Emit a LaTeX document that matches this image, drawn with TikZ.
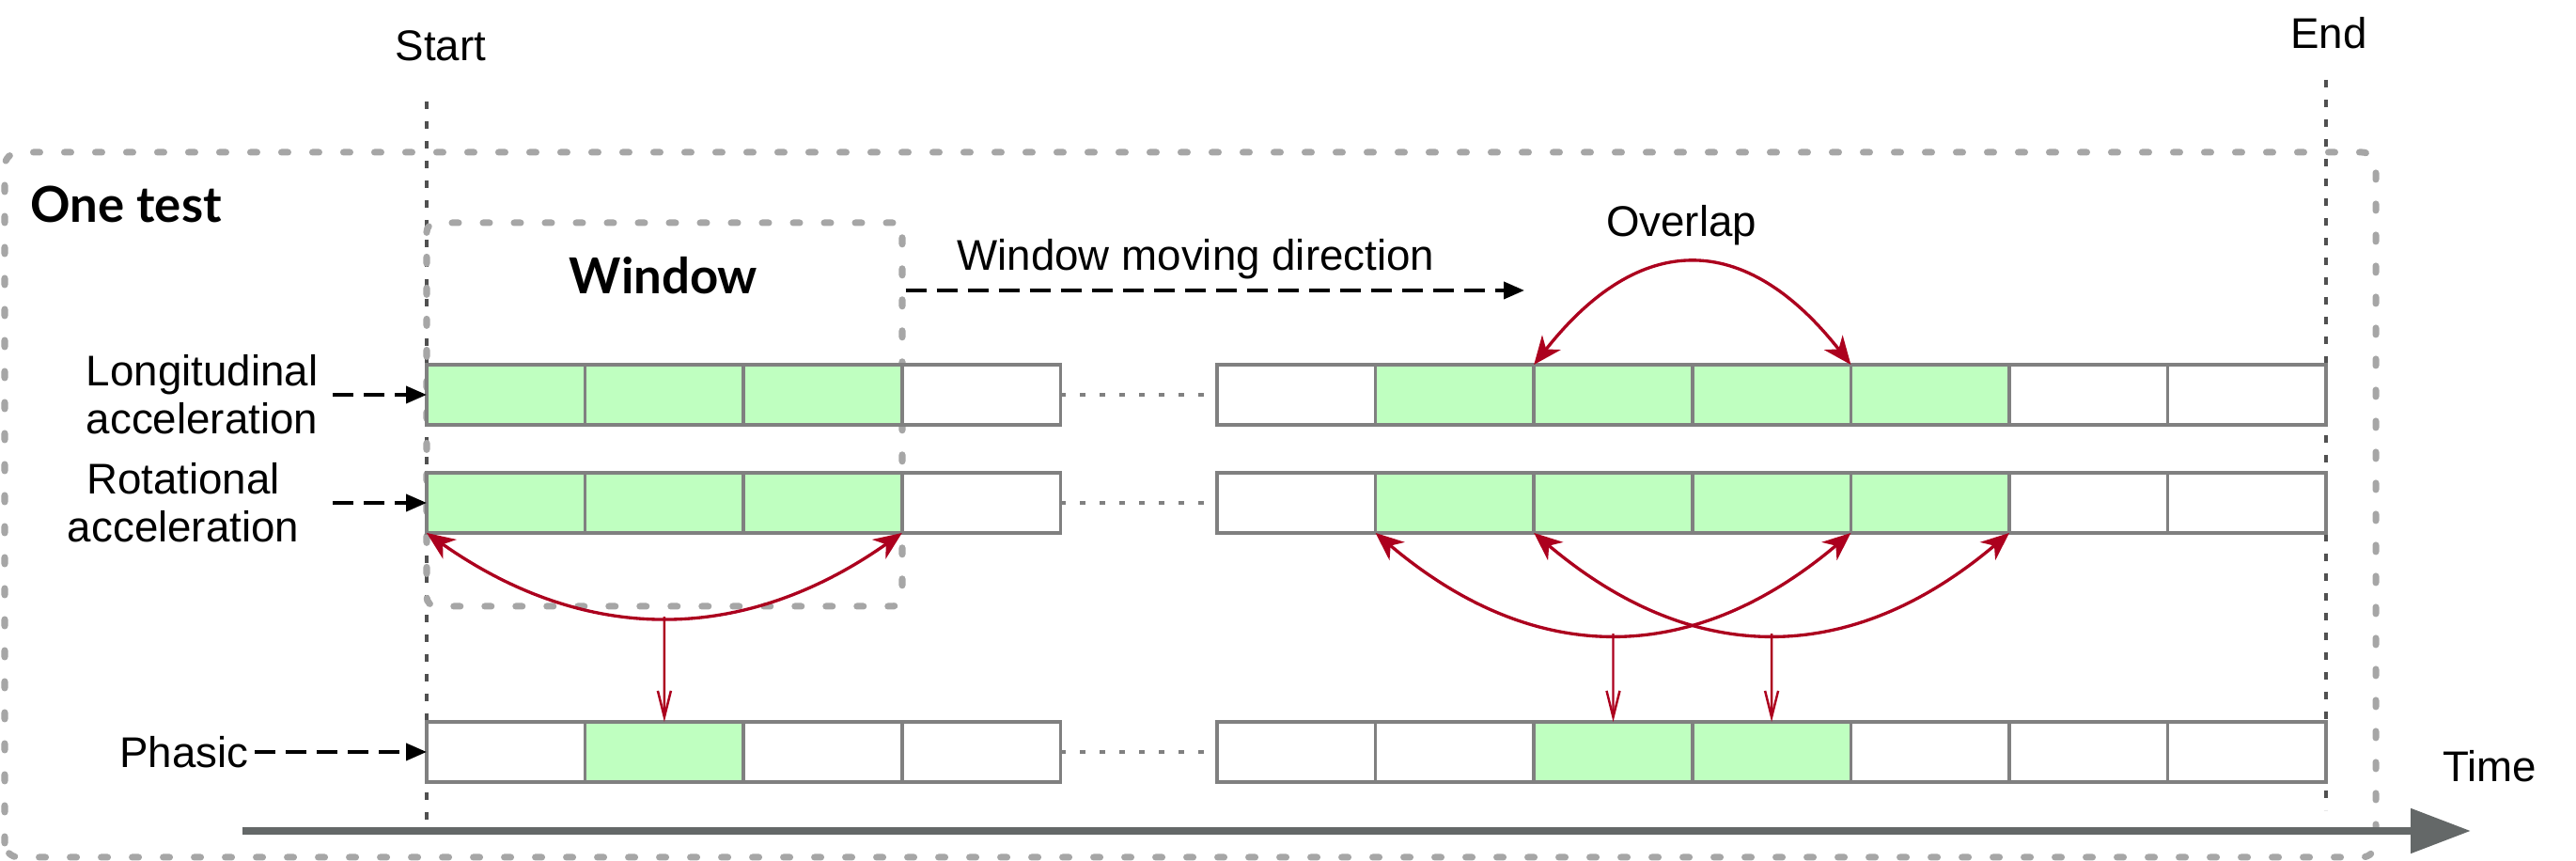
\documentclass[tikz,border=0pt]{standalone}
\usepackage{fontspec}
\setmainfont{Liberation Sans}
\newfontfamily\headfont{Lato}
\usepackage{xcolor}
\usetikzlibrary{arrows.meta, positioning}
\definecolor{cellgreen}{RGB}{191,255,192}
\definecolor{cellgray}{RGB}{128,128,128}
\definecolor{boxgray}{RGB}{166,166,166}
\definecolor{arcred}{RGB}{172,0,30}
\definecolor{axisgray}{RGB}{100,104,104}
\definecolor{guidegray}{RGB}{80,80,80}

\begin{document}
\begin{tikzpicture}[
        font=\fontsize{13}{14.5}\selectfont,
        node distance=0pt,
        cell/.style={rectangle, draw=cellgray, line width=1pt, fill=white, minimum width=1.686cm, minimum height=0.64cm, inner sep=0pt, outer sep=0pt},
        wincell/.style={cell, fill=cellgreen},
        lbl/.style={align=center, inner sep=0pt},
        head/.style={font=\headfont\bfseries\fontsize{15}{18}\selectfont, inner sep=0pt},
        lblarrow/.style={-{Triangle[length=2.2mm,width=1.8mm]}, dash pattern=on 2.2mm off 1.1mm, line width=1.1pt},
        arcarrow/.style={{Stealth[length=3mm,width=2.5mm,inset=0.9mm]}-{Stealth[length=3mm,width=2.5mm,inset=0.9mm]}, arcred, line width=0.95pt},
        downarrow/.style={-{Straight Barb[length=2.8mm,width=1.4mm]}, arcred, line width=0.7pt},
        testbox/.style={draw=boxgray, line width=2pt, line cap=round, dash pattern=on 0.07cm off 0.26cm, rounded corners=0.15cm},
        winbox/.style={testbox, rounded corners=0.1cm, minimum width=5.06cm, minimum height=4.08cm, inner sep=0pt},
        guide/.style={guidegray, line width=0.9pt, dash pattern=on 0.8mm off 1.3mm},
        gapdots/.style={cellgray, line width=1.3pt, dash pattern=on 0.6mm off 1.5mm, shorten >=1.4mm},
        timeaxis/.style={-{Triangle[length=6.4mm,width=4.6mm]}, axisgray, line width=2.4pt}
    ]
        \useasboundingbox (0,0) rectangle (27.41,9.16);

        % Frame of the test and start / end markers
        \draw[testbox] (0.05,0.04) rectangle (25.28,7.54);
        \node[head, anchor=base west] (onetest) at (0.32,6.79) {One test};
        \draw[guide] (4.54,8.08) -- (4.54,0.36);
        \draw[guide] (24.75,8.31) -- (24.75,0.54);
        \node[anchor=base] (start) at (4.69,8.51) {Start};
        \node[anchor=base] (end)   at (24.78,8.64) {End};

        % Window
        \node[winbox] (winbox) at (7.07,4.75) {};
        \node[head, anchor=base] (wintitle) at (7.06,6.03) {Window};
        \coordinate (movend) at (16.22,6.07);
        \draw[lblarrow] (winbox.east |- movend) -- (movend);
        \node[anchor=base west] (movetext) at (10.06,6.28) {Window moving direction};

        % Longitudinal acceleration
        \node[wincell] (l1) at (5.383,4.96) {};
        \node[wincell, right=of l1] (l2) {};
        \node[wincell, right=of l2] (l3) {};
        \node[cell, right=of l3] (l4) {};
        \node[cell] (l5) at (13.793,4.96) {};
        \node[wincell, right=of l5] (l6) {};
        \node[wincell, right=of l6] (l7) {};
        \node[wincell, right=of l7] (l8) {};
        \node[wincell, right=of l8] (l9) {};
        \node[cell, right=of l9] (l10) {};
        \node[cell, right=of l10] (l11) {};

        % Rotational acceleration
        \node[wincell] (r1) at (5.383,3.81) {};
        \node[wincell, right=of r1] (r2) {};
        \node[wincell, right=of r2] (r3) {};
        \node[cell, right=of r3] (r4) {};
        \node[cell] (r5) at (13.793,3.81) {};
        \node[wincell, right=of r5] (r6) {};
        \node[wincell, right=of r6] (r7) {};
        \node[wincell, right=of r7] (r8) {};
        \node[wincell, right=of r8] (r9) {};
        \node[cell, right=of r9] (r10) {};
        \node[cell, right=of r10] (r11) {};

        % Phasic
        \node[cell] (p1) at (5.383,1.16) {};
        \node[wincell, right=of p1] (p2) {};
        \node[cell, right=of p2] (p3) {};
        \node[cell, right=of p3] (p4) {};
        \node[cell] (p5) at (13.793,1.16) {};
        \node[cell, right=of p5] (p6) {};
        \node[wincell, right=of p6] (p7) {};
        \node[wincell, right=of p7] (p8) {};
        \node[cell, right=of p8] (p9) {};
        \node[cell, right=of p9] (p10) {};
        \node[cell, right=of p10] (p11) {};

        \draw[gapdots] (l4.east) -- (l5.west);
        \draw[gapdots] (r4.east) -- (r5.west);
        \draw[gapdots] (p4.east) -- (p5.west);

        % Row labels
        \node[lbl, anchor=east] (lonlbl) at (3.39,4.96) {Longitudinal\\acceleration};
        \node[lbl, anchor=east] (rotlbl) at (3.19,3.81) {Rotational\\acceleration};
        \node[lbl, anchor=east] (phalbl) at (2.65,1.16) {Phasic};
        \draw[lblarrow, shorten <=1.5mm] (lonlbl.east) -- (l1.west);
        \draw[lblarrow, shorten <=3.5mm] (rotlbl.east) -- (r1.west);
        \draw[lblarrow, shorten <=0.6mm] (phalbl.east) -- (p1.west);

        % Overlap
        \draw[arcarrow] (l7.north west) .. controls +(1.127,1.43) and +(-1.127,1.43) .. (l9.north west);
        \node[anchor=base] (overlap) at (17.89,6.64) {Overlap};

        % Windows mapped onto the phasic row
        \draw[arcarrow] (r1.south west) .. controls +(1.69,-1.19) and +(-1.69,-1.19) .. (r3.south east) coordinate[pos=0.5] (winbot);
        \draw[arcarrow] (r6.south west) .. controls +(1.69,-1.43) and +(-1.69,-1.43) .. (r8.south east) coordinate[pos=0.5] (abot);
        \draw[arcarrow] (r7.south west) .. controls +(1.69,-1.43) and +(-1.69,-1.43) .. (r9.south east) coordinate[pos=0.5] (bbot);
        \draw[downarrow] (winbot) -- (p2.north);
        \draw[downarrow] (abot) -- (p7.north);
        \draw[downarrow] (bbot) -- (p8.north);

        % Time axis
        \coordinate (tstart) at (2.58,0.32);
        \coordinate (tend) at (26.29,0.32);
        \draw[timeaxis] (tstart) -- (tend);
        \node[anchor=base] (time) at (26.49,0.84) {Time};
    \end{tikzpicture}
\end{document}
